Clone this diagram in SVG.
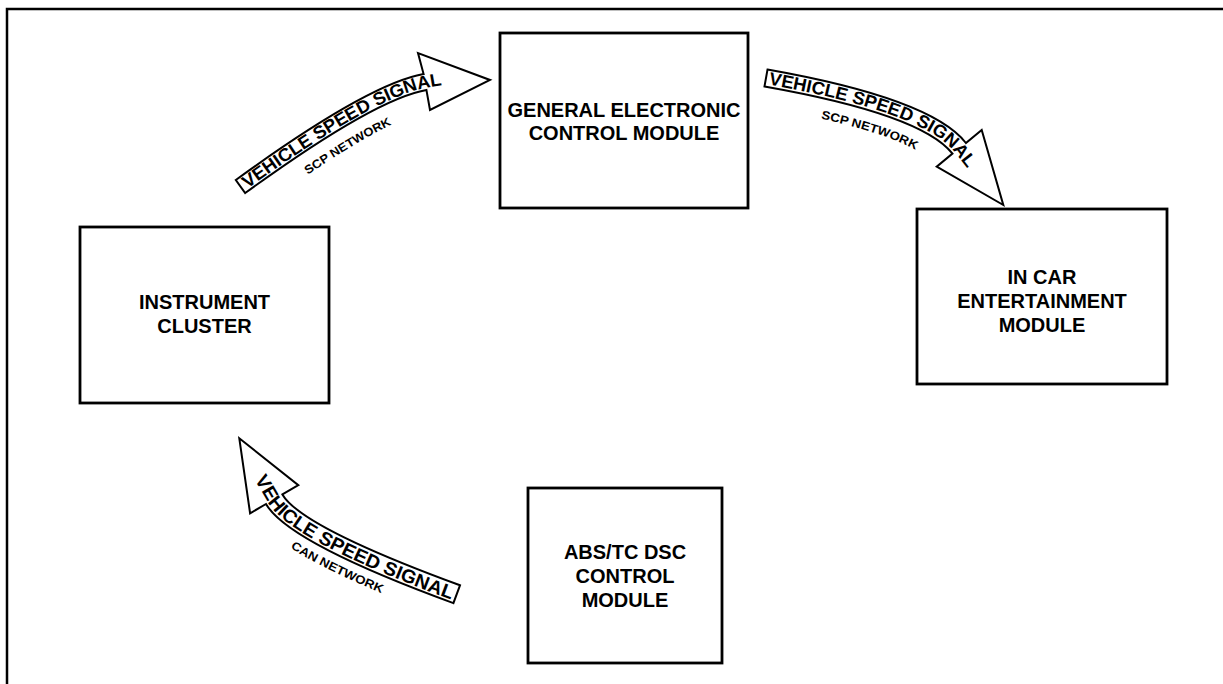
<svg xmlns="http://www.w3.org/2000/svg" width="1223" height="684" viewBox="0 0 1223 684">
<style>
.box{fill:#fff;stroke:#000;stroke-width:2.8}
.lbl{font-family:"Liberation Sans",Arial,sans-serif;font-weight:bold;font-size:20px;fill:#000;text-anchor:middle}
.arrow{fill:#fff;stroke:#000;stroke-width:2;stroke-linejoin:miter}
.big{font-family:"Liberation Sans",Arial,sans-serif;font-weight:bold;font-size:18px;fill:#000}
.small{font-family:"Liberation Sans",Arial,sans-serif;font-weight:bold;font-size:12px;fill:#000}
</style>
<defs>
<path id="b1" d="M244,191.4 Q373.6,97.2 426,87.9 L451,83.5"/>
<path id="s1" d="M257.6,210 Q382.9,118.9 430,110.6"/>
<path id="b2" d="M765,83.9 Q922.9,111.8 954.5,152 L973.1,175.6"/>
<path id="s2" d="M761,106.6 Q910.3,132.9 936.4,166.3"/>
<path id="b3" d="M254.1,478.6 L268.2,502.7 Q290.4,540.7 454.3,600.8"/>
<path id="s3" d="M251,512.8 Q277,556.6 447.8,619"/>
</defs>
<rect width="1223" height="684" fill="#fff"/>
<path d="M7,684 V9 H1223" fill="none" stroke="#000" stroke-width="2.5"/>

<g id="connectors">
<g id="arrow-ic-gecm">
<path class="arrow" d="M235.8,180 Q368,84 423.6,74.1 L418,53 L490,80 L430,110 L426.4,89.9 Q374.4,99 245.2,193 Z"/>
<text class="big"><textPath href="#b1" startOffset="4" textLength="223" lengthAdjust="spacingAndGlyphs">VEHICLE SPEED SIGNAL</textPath></text>
<text class="small" text-anchor="middle"><textPath href="#s1" startOffset="55%" textLength="98" lengthAdjust="spacingAndGlyphs">SCP NETWORK</textPath></text>
</g>
<g id="arrow-gecm-ice">
<path class="arrow" d="M767.5,69.6 Q930.9,98.5 965.9,143 L981.7,130 L1003.3,205 L936.7,166.7 L952.5,153.6 Q921.5,114.1 764.5,86.4 Z"/>
<text class="big"><textPath href="#b2" startOffset="3" textLength="222" lengthAdjust="spacingAndGlyphs">VEHICLE SPEED SIGNAL</textPath></text>
<text class="small" text-anchor="middle"><textPath href="#s2" startOffset="59%" textLength="100" lengthAdjust="spacingAndGlyphs">SCP NETWORK</textPath></text>
</g>
<g id="arrow-abs-ic">
<path class="arrow" d="M460,585.3 Q301.6,527.2 282.4,494.4 L298.3,485.1 L239.3,438.3 L250.1,513.3 L266,504 Q288.6,542.8 453.4,603.1 Z"/>
<text class="big" style="font-size:19px"><textPath href="#b3" startOffset="1" textLength="236" lengthAdjust="spacingAndGlyphs">VEHICLE SPEED SIGNAL</textPath></text>
<text class="small" text-anchor="middle"><textPath href="#s3" startOffset="46%" textLength="102" lengthAdjust="spacingAndGlyphs">CAN NETWORK</textPath></text>
</g>
</g>

<g id="gecm">
<rect class="box" x="500" y="33" width="248" height="175"/>
<text class="lbl" x="624" y="117">GENERAL ELECTRONIC</text>
<text class="lbl" x="624" y="140">CONTROL MODULE</text>
</g>
<g id="instrument-cluster">
<rect class="box" x="80" y="227" width="249" height="176"/>
<text class="lbl" x="204.5" y="309">INSTRUMENT</text>
<text class="lbl" x="204.5" y="333">CLUSTER</text>
</g>
<g id="ice">
<rect class="box" x="917" y="209" width="250" height="175"/>
<text class="lbl" x="1042" y="284">IN CAR</text>
<text class="lbl" x="1042" y="308">ENTERTAINMENT</text>
<text class="lbl" x="1042" y="332">MODULE</text>
</g>
<g id="abs">
<rect class="box" x="528" y="488" width="194" height="175"/>
<text class="lbl" x="625" y="559">ABS/TC DSC</text>
<text class="lbl" x="625" y="583">CONTROL</text>
<text class="lbl" x="625" y="607">MODULE</text>
</g>
</svg>
